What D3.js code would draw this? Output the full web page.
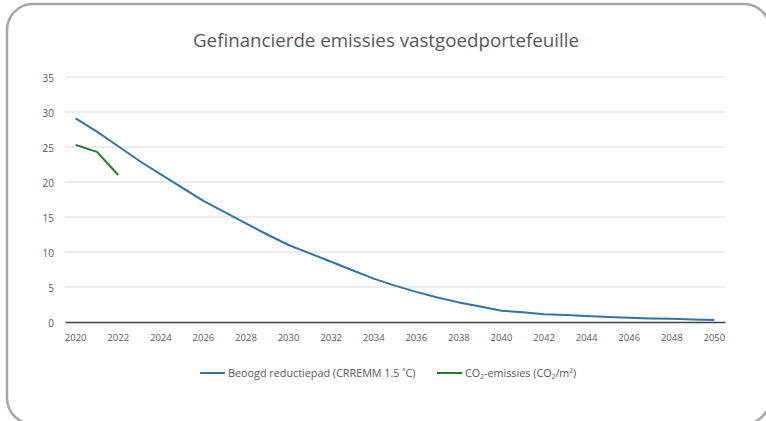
<!DOCTYPE html>
<html>
<head>
<meta charset="utf-8">
<script src="https://cdn.jsdelivr.net/npm/d3@7"></script>
<style>
  body { margin: 0; background: #fff; }
  svg { display: block; font-family: "Open Sans", "DejaVu Sans", sans-serif; }
</style>
</head>
<body>
<div id="chart"></div>
<script>
// years on the category axis
const years = d3.range(2020, 2051);
// target path (CRREM 1.5 C)
const targetPath = [29.1, 27.2, 25.1, 23.0, 21.1, 19.2, 17.3, 15.7, 14.1, 12.5,
  11.0, 9.8, 8.6, 7.4, 6.2, 5.2, 4.3, 3.5, 2.8, 2.2,
  1.6, 1.4, 1.1, 1.0, 0.85, 0.7, 0.6, 0.5, 0.45, 0.35, 0.3];
// actual emissions
const emissionYears = [2020, 2021, 2022];
const emissions = [25.3, 24.3, 21.0];
const yTicks = [0, 5, 10, 15, 20, 25, 30, 35];
const seriesNames = ["Beoogd reductiepad (CRREMM 1.5 ˚C)", "CO₂-emissies (CO₂/m²)"];
const seriesColors = ["#2e75a6", "#217a24"];

const width = 766, height = 421;
const margin = {top: 77, right: 41, bottom: 99, left: 65};

const svg = d3.select("#chart").append("svg")
  .attr("width", width)
  .attr("height", height);

// frame
svg.append("rect")
  .attr("x", 7).attr("y", 4)
  .attr("width", 763).attr("height", 420)
  .attr("rx", 26).attr("ry", 26)
  .attr("fill", "#fff")
  .attr("stroke", "#a6a6a6")
  .attr("stroke-width", 2.5);

svg.append("text")
  .attr("x", 386)
  .attr("y", 47)
  .attr("text-anchor", "middle")
  .attr("fill", "#595959")
  .style("font-size", "18px")
  .attr("textLength", 386)
  .attr("lengthAdjust", "spacingAndGlyphs")
  .text("Gefinancierde emissies vastgoedportefeuille");

const x = d3.scaleBand()
  .domain(years)
  .range([margin.left, width - margin.right])
  .padding(0);
const cx = yr => x(yr) + x.bandwidth() / 2;

const y = d3.scaleLinear()
  .domain([0, 35])
  .range([height - margin.bottom, margin.top]);

// gridlines
svg.append("g")
  .selectAll("line")
  .data(yTicks.filter(d => d > 0))
  .join("line")
  .attr("x1", margin.left)
  .attr("x2", width - margin.right)
  .attr("y1", d => y(d))
  .attr("y2", d => y(d))
  .attr("stroke", "#d9d9d9")
  .attr("stroke-width", 1);

// y axis labels
const yAxis = svg.append("g")
  .attr("transform", `translate(${margin.left},0)`)
  .call(d3.axisLeft(y).tickValues(yTicks).tickSize(0).tickPadding(11));
yAxis.select(".domain").remove();
yAxis.selectAll("text")
  .attr("fill", "#595959")
  .attr("dy", "0.4em")
  .style("font-size", "10px")
  .style("font-family", "Open Sans, sans-serif");

// x axis
const xAxis = svg.append("g")
  .attr("transform", `translate(0,${y(0)})`)
  .call(d3.axisBottom(x).tickValues(years.filter(d => d % 2 === 0)).tickSize(0).tickPadding(12));
xAxis.select(".domain")
  .attr("stroke", "#404040")
  .attr("stroke-width", 1.5);
xAxis.selectAll("text")
  .attr("fill", "#595959")
  .style("font-size", "9.5px")
  .style("font-family", "Open Sans, sans-serif");

const line = d3.line()
  .x(d => cx(d[0]))
  .y(d => y(d[1]));

svg.append("path")
  .datum(years.map((yr, i) => [yr, targetPath[i]]))
  .attr("fill", "none")
  .attr("stroke", seriesColors[0])
  .attr("stroke-width", 2)
  .attr("stroke-linejoin", "round")
  .attr("d", line);

svg.append("path")
  .datum(emissionYears.map((yr, i) => [yr, emissions[i]]))
  .attr("fill", "none")
  .attr("stroke", seriesColors[1])
  .attr("stroke-width", 2)
  .attr("stroke-linejoin", "round")
  .attr("d", line);

// legend
const legendX = [200, 437];
seriesNames.forEach((name, i) => {
  const g = svg.append("g").attr("transform", `translate(${legendX[i]},373)`);
  g.append("line")
    .attr("x1", 0).attr("x2", 25)
    .attr("stroke", seriesColors[i])
    .attr("stroke-width", 2);
  g.append("text")
    .attr("x", 28)
    .attr("y", 4)
    .attr("fill", "#595959")
    .style("font-size", "10.8px")
    .text(name);
});
</script>
</body>
</html>
